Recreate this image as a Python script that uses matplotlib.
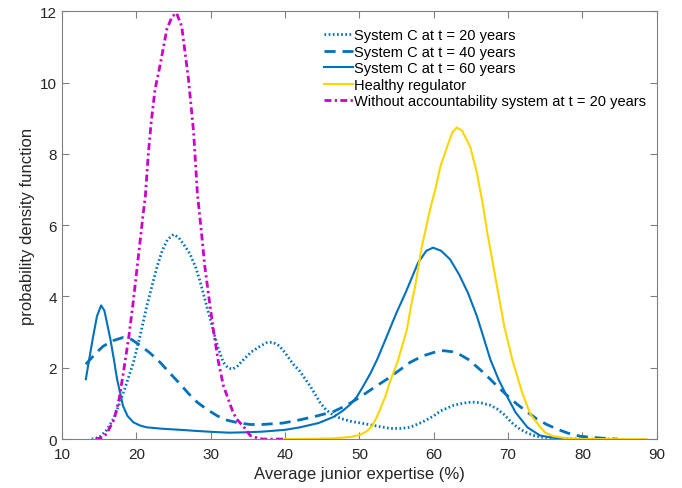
import matplotlib
matplotlib.use("Agg")
import matplotlib.pyplot as plt

plt.rcParams['font.family'] = ['Liberation Sans', 'DejaVu Sans']

# System C at t = 20 years (dotted)
x20 = [14.0, 15.0, 16.0, 17.0, 17.6, 18.5, 19.6, 20.5, 21.4, 22.1, 22.8, 23.5, 24.2, 25.0, 25.7,
       26.4, 27.2, 28.0, 28.6, 29.5, 30.4, 31.0, 31.7, 32.3, 32.9, 33.6, 34.5, 35.5, 36.6, 37.5,
       38.3, 39.2, 40.0, 41.1, 42.0, 43.4, 44.7, 45.5, 46.5, 47.6, 48.8, 51.0, 52.5, 54.1, 55.5,
       56.8, 58.5, 60.0, 60.9, 62.7, 64.0, 65.1, 66.3, 67.6, 68.5, 69.4, 70.7, 71.6, 72.6, 73.5,
       74.3, 76.0, 78.0, 81.0, 84.7]
y20 = [0, 0.05, 0.25, 0.6, 0.93, 1.45, 2.15, 2.9, 3.73, 4.3, 4.85, 5.3, 5.6, 5.74, 5.65,
       5.45, 5.2, 4.8, 4.4, 3.7, 3.0, 2.55, 2.15, 2.0, 1.96, 2.05, 2.25, 2.45, 2.6, 2.7,
       2.72, 2.62, 2.42, 2.1, 1.9, 1.48, 1.03, 0.82, 0.67, 0.57, 0.5, 0.42, 0.36, 0.3, 0.3,
       0.33, 0.48, 0.65, 0.79, 0.95, 1.01, 1.04, 1.02, 0.95, 0.85, 0.7, 0.42, 0.28, 0.17, 0.1,
       0.06, 0.03, 0.01, 0, 0]

# System C at t = 40 years (dashed)
x40 = [13.2, 14.5, 15.5, 16.7, 18.2, 19.3, 20.5, 21.8, 23.2, 24.5, 25.9, 27.0, 28.2, 29.5, 30.9,
       32.2, 33.6, 35.3, 37.0, 39.7, 42.0, 44.3, 46.5, 48.3, 50.1, 52.0, 53.7, 55.3, 56.8, 58.5,
       60.0, 61.3, 62.5, 63.6, 64.6, 65.5, 66.5, 67.6, 68.7, 70.0, 71.2, 72.5, 73.9, 75.2, 76.6,
       78.0, 79.7, 82.4, 84.7]
y40 = [2.1, 2.4, 2.6, 2.75, 2.85, 2.8, 2.63, 2.42, 2.15, 1.85, 1.54, 1.28, 1.03, 0.83, 0.65,
       0.53, 0.46, 0.41, 0.41, 0.45, 0.54, 0.65, 0.77, 0.95, 1.18, 1.45, 1.68, 1.92, 2.15, 2.33,
       2.43, 2.48, 2.45, 2.36, 2.24, 2.08, 1.9, 1.68, 1.45, 1.2, 0.98, 0.77, 0.56, 0.41, 0.28,
       0.17, 0.08, 0.03, 0]

# System C at t = 60 years (solid)
x60 = [13.2, 13.7, 14.2, 14.7, 15.25, 15.7, 16.2, 16.5, 17.0, 17.4, 18.2, 18.8, 19.6, 20.5, 21.4,
       23.5, 25.9, 28.0, 30.4, 32.5, 34.6, 37.0, 40.0, 42.0, 44.5, 46.5, 47.8, 48.8, 49.7, 50.5,
       51.5, 52.4, 53.7, 55.0, 56.2, 57.9, 59.0, 59.9, 61.0, 62.2, 63.4, 64.6, 65.8, 66.7, 67.6,
       68.7, 69.6, 71.0, 72.6, 74.3, 76.0, 78.0]
y60 = [1.68, 2.3, 2.9, 3.45, 3.75, 3.6, 3.1, 2.8, 2.2, 1.68, 0.93, 0.65, 0.47, 0.38, 0.33,
       0.29, 0.26, 0.23, 0.2, 0.18, 0.19, 0.21, 0.26, 0.33, 0.45, 0.62, 0.8, 0.98, 1.2, 1.48,
       1.85, 2.24, 2.89, 3.55, 4.1, 4.95, 5.28, 5.37, 5.28, 5.04, 4.62, 4.1, 3.45, 2.85, 2.24,
       1.68, 1.3, 0.75, 0.33, 0.1, 0.04, 0.01]

# Healthy regulator
xh = [40.0, 44.0, 46.5, 48.8, 50.1, 51.0, 51.7, 52.3, 52.8, 53.5, 54.1, 55.1, 55.9, 56.4, 57.0,
      57.5, 58.4, 59.5, 60.2, 60.9, 61.8, 62.5, 63.1, 63.8, 64.9, 65.8, 66.5, 67.2, 68.5, 69.5,
      70.6, 71.9, 73.0, 74.3, 75.0, 76.1, 78.0, 80.0, 88.6]
yh = [0, 0.01, 0.02, 0.06, 0.12, 0.22, 0.37, 0.6, 0.84, 1.2, 1.6, 2.15, 2.72, 3.08, 3.8,
      4.29, 5.4, 6.44, 7.0, 7.65, 8.2, 8.6, 8.74, 8.65, 8.2, 7.47, 6.7, 5.8, 4.29, 3.15,
      2.2, 1.3, 0.7, 0.34, 0.18, 0.08, 0.02, 0, 0]

# Without accountability system at t = 20 years
xw = [14.5, 15.5, 16.0, 17.0, 17.7, 18.2, 19.0, 19.6, 20.2, 20.9, 21.2, 21.6, 22.0, 22.5, 23.2,
      24.1, 24.8, 25.4, 26.1, 27.0, 27.7, 28.2, 28.7, 29.2, 29.8, 30.4, 31.0, 31.7, 32.3, 33.0,
      33.5, 34.6, 35.3, 36.3, 37.0, 40.0]
yw = [0, 0.05, 0.15, 0.55, 1.15, 1.8, 2.9, 3.9, 5.0, 6.3, 6.8, 8.0, 8.9, 9.8, 10.5,
      11.5, 11.85, 11.95, 11.57, 10.1, 8.6, 6.9, 5.9, 4.85, 3.9, 3.0, 2.2, 1.5, 1.15, 0.75,
      0.56, 0.3, 0.1, 0.03, 0, 0]

labels = ['System C at t = 20 years', 'System C at t = 40 years', 'System C at t = 60 years',
          'Healthy regulator', 'Without accountability system at t = 20 years']

blue = '#0072BD'
fig, ax = plt.subplots(figsize=(6.82, 4.89), dpi=100)
fig.subplots_adjust(left=0.091, right=0.963, top=0.975, bottom=0.1)

ax.plot(x20, y20, color=blue, lw=2, linestyle=(0, (0.6, 0.9)), label=labels[0])
ax.plot(x40, y40, color=blue, lw=2, linestyle=(0, (4, 2.5)), label=labels[1])
ax.plot(x60, y60, color=blue, lw=1.5, label=labels[2])
ax.plot(xh, yh, color='#FFD500', lw=1.5, label=labels[3])
ax.plot(xw, yw, color='#CC00CC', lw=2, linestyle=(0, (2.5, 1.2, 0.8, 1.2)), label=labels[4])

ax.set_xlim(10, 90)
ax.set_ylim(0, 12)
ax.set_xticks(range(10, 91, 10))
ax.set_yticks(range(0, 13, 2))
for s in ax.spines.values():
    s.set_color('#808080')
ax.tick_params(direction='in', top=True, right=True, length=5, color='#808080',
               labelsize=11, labelcolor='#262626')
ax.tick_params(axis='x', pad=6)
ax.set_xlabel('Average junior expertise (%)', fontsize=12, color='#262626', labelpad=3)
ax.set_ylabel('probability density function', fontsize=12, color='#262626')

ax.legend(loc='upper left', bbox_to_anchor=(0.44, 0.96), frameon=False, fontsize=10.5,
          handlelength=2.0, handletextpad=0.1, borderpad=0, borderaxespad=0, labelspacing=0.17)

fig.savefig('out.png', dpi=100)
